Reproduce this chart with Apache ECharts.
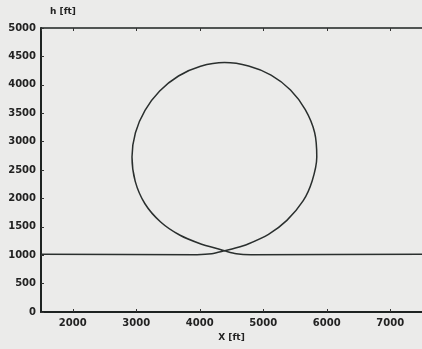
<!DOCTYPE html>
<html>
<head>
<meta charset="utf-8">
<script src="https://cdn.jsdelivr.net/npm/echarts@6/dist/echarts.min.js"></script>
<style>
  html, body { margin: 0; padding: 0; background: #ebebea; }
  #chart { width: 422px; height: 349px; }
</style>
</head>
<body>
<div id="chart"></div>
<script>
// flight path (X [ft], h [ft])
const xFt = [1500, 3957, 4189, 4390, 4576, 4752, 5083, 5372, 5627, 5770, 5843, 5809, 5662, 5429, 5123, 4769, 4390,
  4013, 3665, 3369, 3138, 2987, 2933, 2984, 3137, 3384, 3690, 4029, 4267, 4390, 4576, 4808, 7500];
const hFt = [1015, 1010, 1024, 1077, 1130, 1193, 1367, 1613, 1955, 2308, 2728, 3161, 3563, 3909, 4171, 4332, 4392,
  4327, 4155, 3890, 3549, 3155, 2728, 2300, 1906, 1585, 1351, 1193, 1117, 1077, 1024, 1008, 1015];

const path = xFt.map((x, i) => [x, hFt[i]]);

const chart = echarts.init(document.getElementById('chart'));

const labelStyle = {
  fontFamily: 'DejaVu Sans',
  fontWeight: 'bold',
  fontSize: 10,
  color: '#222',
};

const option = {
  backgroundColor: '#ebebea',
  animation: false,
  grid: { left: 41, top: 28, right: -7, bottom: 37 },
  xAxis: [
    {
      type: 'value',
      min: 1500,
      max: 7500,
      splitNumber: 6,
      minInterval: 1000,
      maxInterval: 1000,
      name: 'X [ft]',
      nameLocation: 'middle',
      nameGap: 21,
      nameTextStyle: { ...labelStyle, fontSize: 9 },
      axisLine: { show: true, onZero: false, lineStyle: { color: '#1e2322', width: 2 } },
      axisTick: { show: true, inside: true, length: 3, lineStyle: { color: '#333' } },
      axisLabel: { ...labelStyle, margin: 6, showMinLabel: false, showMaxLabel: false, formatter: v => String(v) },
      splitLine: { show: false },
    },
    {
      type: 'value',
      position: 'top',
      min: 1500,
      max: 7500,
      splitNumber: 6,
      minInterval: 1000,
      maxInterval: 1000,
      axisLine: { show: true, onZero: false, lineStyle: { color: '#1e2322', width: 1.5 } },
      axisTick: { show: true, inside: true, length: 3, lineStyle: { color: '#333' } },
      axisLabel: { show: false },
      splitLine: { show: false },
    },
  ],
  yAxis: {
    type: 'value',
    min: 0,
    max: 5000,
    interval: 500,
    name: 'h [ft]',
    nameLocation: 'end',
    nameGap: 12,
    nameTextStyle: { ...labelStyle, fontSize: 9, align: 'left', padding: [0, 0, 0, 9] },
    axisLine: { show: true, onZero: false, lineStyle: { color: '#1e2322', width: 2 } },
    axisTick: { show: true, inside: true, length: 3, lineStyle: { color: '#333' } },
    axisLabel: { ...labelStyle, margin: 5, formatter: v => String(v) },
    splitLine: { show: false },
  },
  series: [
    {
      type: 'line',
      data: path,
      showSymbol: false,
      smooth: 0.25,
      lineStyle: { color: '#2a2f2e', width: 1.5 },
    },
  ],
};

chart.setOption(option);
</script>
</body>
</html>
